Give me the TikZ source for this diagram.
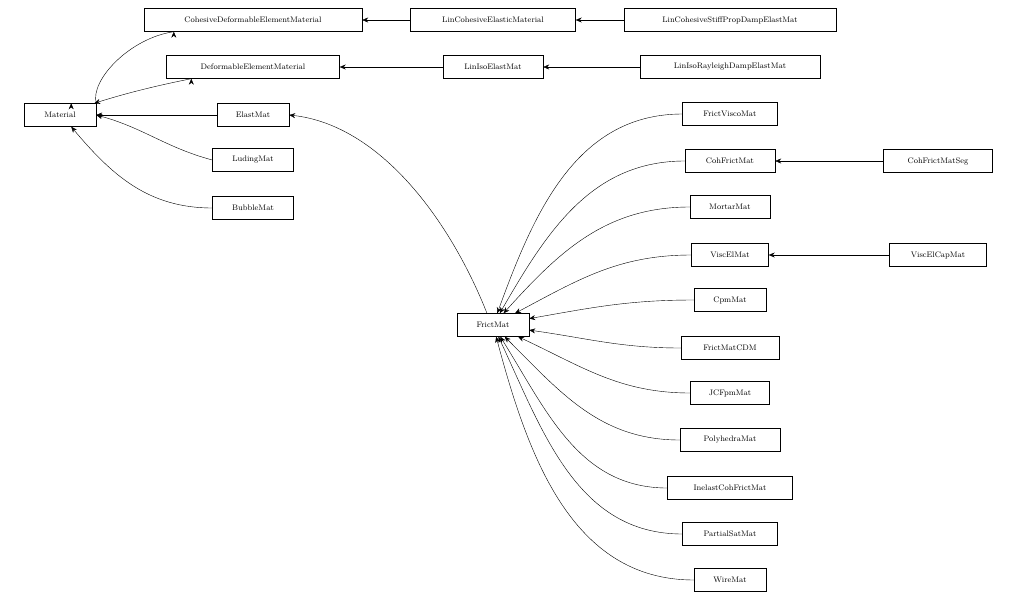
\documentclass[tikz,border=0pt]{standalone}
\usetikzlibrary{arrows.meta}
\begin{document}
\begin{tikzpicture}[x=1pt,y=-1pt,
  n/.style={draw,thin,inner sep=0pt,minimum height=23pt,font=\fontsize{8}{9}\selectfont},
  arr/.style={-{Stealth[length=6pt,width=5pt]},thin}]
\useasboundingbox (0,0) rectangle (1018,603);
\node[n,minimum width=72pt] (mat) at (60,115) {Material};
\node[n,minimum width=218pt] (cdem) at (253,20) {CohesiveDeformableElementMaterial};
\node[n,minimum width=165pt] (lce) at (493,20) {LinCohesiveElasticMaterial};
\node[n,minimum width=212pt] (lcs) at (730,20) {LinCohesiveStiffPropDampElastMat};
\node[n,minimum width=173pt] (dem) at (253,67) {DeformableElementMaterial};
\node[n,minimum width=100pt] (lie) at (493,67) {LinIsoElastMat};
\node[n,minimum width=180pt] (lir) at (730,67) {LinIsoRayleighDampElastMat};
\node[n,minimum width=72pt] (el) at (253,115) {ElastMat};
\node[n,minimum width=81pt] (lud) at (253,160) {LudingMat};
\node[n,minimum width=81pt] (bub) at (253,208) {BubbleMat};
\node[n,minimum width=72pt] (fm) at (493,325) {FrictMat};
\node[n,minimum width=95pt] (fv) at (730,114) {FrictViscoMat};
\node[n,minimum width=90pt] (cf) at (730,161) {CohFrictMat};
\node[n,minimum width=109pt] (cfs) at (938,161) {CohFrictMatSeg};
\node[n,minimum width=80pt] (mor) at (730,207) {MortarMat};
\node[n,minimum width=77pt] (ve) at (730,255) {ViscElMat};
\node[n,minimum width=97pt] (vec) at (938,255) {ViscElCapMat};
\node[n,minimum width=72pt] (cpm) at (730,300) {CpmMat};
\node[n,minimum width=98pt] (cdm) at (730,348) {FrictMatCDM};
\node[n,minimum width=79pt] (jc) at (730,393) {JCFpmMat};
\node[n,minimum width=100pt] (pol) at (730,440) {PolyhedraMat};
\node[n,minimum width=125pt] (ine) at (730,488) {InelastCohFrictMat};
\node[n,minimum width=95pt] (ps) at (730,534) {PartialSatMat};
\node[n,minimum width=72pt] (wm) at (730,580) {WireMat};

\draw[arr] (lce) -- (cdem);
\draw[arr] (lcs) -- (lce);
\draw[arr] (lie) -- (dem);
\draw[arr] (lir) -- (lie);
\draw[arr] (el) -- (mat);
\draw[arr] (cfs) -- (cf);
\draw[arr] (vec) -- (ve);
\draw[arr] (cdem.south west) ++(30,0) coordinate (c1);
\draw[arr] (c1) .. controls (130,38) and (90,80) .. (mat.north east) ++(-25,0);
\draw[arr] (dem.south west) ++(25,0) coordinate (c2);
\draw[arr] (c2) .. controls (160,85) and (130,92) .. ([xshift=-2pt]mat.north east);
\draw[arr] (lud.west) to[out=165,in=-15] (mat.east);
\draw[arr] (bub.west) to[out=180,in=-50] ([xshift=-25pt]mat.south east);
\draw[arr] ([xshift=-6pt]fm.north) .. controls (450,220) and (380,125) .. (el.east);
\foreach \c/\i in {fv/70,cf/60,mor/48,ve/28,cpm/10,cdm/-8,jc/-25,pol/-45,ine/-58,ps/-65,wm/-75}{
  \draw[arr] (\c.west) to[out=180,in=\i] (fm);
}
\end{tikzpicture}
\end{document}
